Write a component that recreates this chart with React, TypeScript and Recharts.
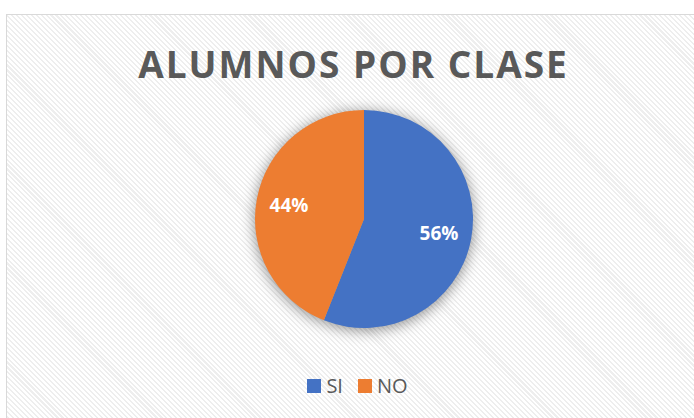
import React from "react"
import { PieChart, Pie, Cell, Legend } from "recharts"

const categories = ["SI", "NO"]
const shares = [56, 44]
const colors = ["#4472C4", "#ED7D31"]
const title = "ALUMNOS POR CLASE"

const data = categories.map((name, i) => ({ name, value: shares[i] }))

const RADIAN = Math.PI / 180

const renderLabel = ({ cx, cy, midAngle, outerRadius, percent }) => {
  const r = outerRadius * 0.7
  const x = cx + r * Math.cos(-midAngle * RADIAN)
  const y = cy + r * Math.sin(-midAngle * RADIAN)
  return (
    <text
      x={x}
      y={y}
      fill="#ffffff"
      textAnchor="middle"
      dominantBaseline="central"
      fontFamily="'Open Sans', sans-serif"
      fontWeight="bold"
      fontSize={19}
    >
      {`${Math.round(percent * 100)}%`}
    </text>
  )
}

// legend built from the category list so the shadow pie doesn't show up
const LegendContent = () => (
  <div style={{ display: "flex", justifyContent: "center", alignItems: "center" }}>
    {categories.map((name, i) => (
      <div
        key={name}
        style={{ display: "flex", alignItems: "center", marginLeft: i ? 15 : 0 }}
      >
        <span
          style={{ width: 14, height: 14, background: colors[i], marginRight: 5, display: "inline-block" }}
        />
        <span style={{ color: "#595959", fontSize: 20, fontFamily: "'Open Sans', sans-serif" }}>
          {name}
        </span>
      </div>
    ))}
  </div>
)

const App = () => {
  return (
    <div
      style={{
        position: "fixed",
        left: 0,
        top: 0,
        width: 694,
        height: 418,
        overflow: "hidden",
        background: "#ffffff",
      }}
    >
      <style>{`.pie-shadow { filter: blur(5px); }`}</style>
      <div
        style={{
          position: "absolute",
          left: 6,
          top: 14,
          width: 720,
          height: 440,
          border: "1.5px solid #d9d9d9",
          background:
            "repeating-linear-gradient(45deg, #ffffff 0px, #ffffff 2px, #eeeeee 2px, #eeeeee 3.5px)",
        }}
      />
      <div
        style={{
          position: "absolute",
          left: 0,
          width: 707,
          top: 39,
          textAlign: "center",
          color: "#595959",
          fontFamily: "'Open Sans', sans-serif",
          fontWeight: "bold",
          fontSize: 37,
          letterSpacing: 2,
          lineHeight: "50px",
        }}
      >
        {title}
      </div>
      <div style={{ position: "absolute", left: 0, top: 0 }}>
        <PieChart width={694} height={418}>
          <Pie
            data={data}
            dataKey="value"
            nameKey="name"
            cx={359}
            cy={216}
            outerRadius={110}
            startAngle={90}
            endAngle={-270}
            stroke="none"
            fill="rgba(0,0,0,0.4)"
            className="pie-shadow"
            legendType="none"
            isAnimationActive={false}
          />
          <Pie
            data={data}
            dataKey="value"
            nameKey="name"
            cx={359}
            cy={214}
            outerRadius={109}
            startAngle={90}
            endAngle={-270}
            stroke="none"
            label={renderLabel}
            labelLine={false}
            isAnimationActive={false}
          >
            {data.map((d, i) => (
              <Cell key={d.name} fill={colors[i]} />
            ))}
          </Pie>
          <Legend
            content={<LegendContent />}
            wrapperStyle={{ position: "absolute", left: 0, width: 715, top: 372 }}
          />
        </PieChart>
      </div>
    </div>
  )
}

export default App
